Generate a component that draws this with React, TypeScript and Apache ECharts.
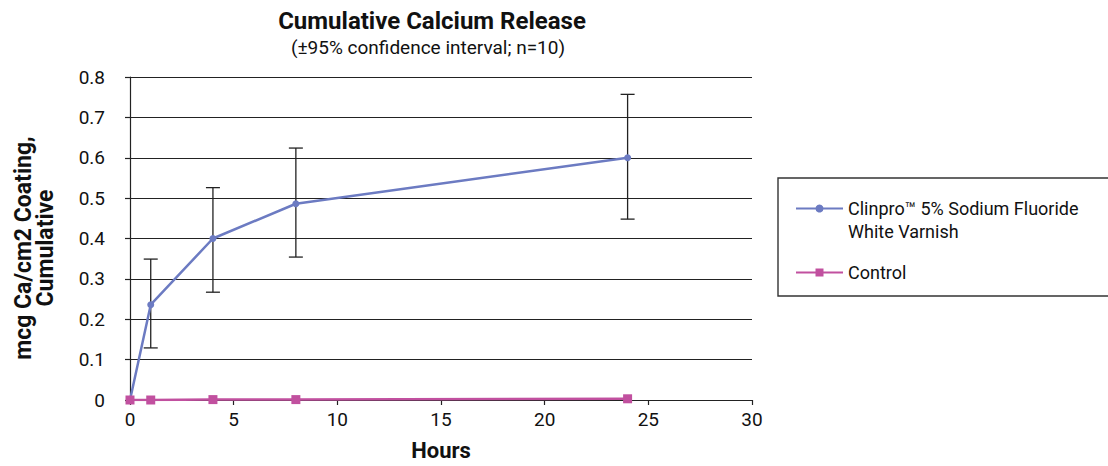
import React, { useEffect, useRef } from "react";
import * as echarts from "echarts";

const hours = [0, 1, 4, 8, 24];
const clinproMean = [0, 0.236, 0.4, 0.486, 0.6];
const clinproLow = [null, 0.129, 0.267, 0.354, 0.448];
const clinproHigh = [null, 0.349, 0.526, 0.624, 0.757];
const controlMean = [0, 0, 0.001, 0.001, 0.003];
const yTicks = { min: 0, max: 0.8, interval: 0.1 };
const xTicks = { min: 0, max: 30, interval: 5 };

const FONT = "Roboto, 'Liberation Sans', sans-serif";
const BLUE = "#6c7bc2";
const PINK = "#c1509f";
const NAME1 = "Clinpro™ 5% Sodium Fluoride\nWhite Varnish";
const NAME2 = "Control";

export default function App() {
  const ref = useRef<HTMLDivElement>(null);
  useEffect(() => {
    document.body.style.margin = "0";
    if (!ref.current) return;
    const chart = echarts.init(ref.current, null, { renderer: "svg" });
    const errData = hours
      .map((h, i) => [h, clinproLow[i], clinproHigh[i]])
      .filter((d) => d[1] !== null);
    chart.setOption({
      animation: false,
      textStyle: { fontFamily: FONT },
      graphic: [
        {
          type: "text",
          x: 432,
          y: 21,
          style: {
            text: "Cumulative Calcium Release",
            font: `bold 24px ${FONT}`,
            fill: "#111",
            textAlign: "center",
            textVerticalAlign: "middle",
          },
        },
        {
          type: "text",
          x: 428,
          y: 47,
          style: {
            text: "(±95% confidence interval; n=10)",
            font: `19px ${FONT}`,
            fill: "#111",
            textAlign: "center",
            textVerticalAlign: "middle",
          },
        },
        {
          type: "text",
          x: 34,
          y: 248,
          rotation: Math.PI / 2,
          style: {
            text: "mcg Ca/cm2 Coating,\nCumulative",
            font: `bold 23px ${FONT}`,
            lineHeight: 22,
            fill: "#111",
            textAlign: "center",
            textVerticalAlign: "middle",
          },
        },
        {
          type: "rect",
          shape: { x: 778, y: 178, width: 340, height: 118 },
          style: { fill: "none", stroke: "#333", lineWidth: 1.4 },
          z: 1,
        },
      ],
      grid: { left: 130, right: 356, top: 77, bottom: 66, containLabel: false, outerBoundsMode: "none" },
      xAxis: {
        type: "value",
        min: xTicks.min,
        max: xTicks.max,
        interval: xTicks.interval,
        name: "Hours",
        nameLocation: "middle",
        nameGap: 39,
        nameTextStyle: { fontFamily: FONT, fontWeight: "bold", fontSize: 22, color: "#111" },
        axisLine: { lineStyle: { color: "#222", width: 1.2 } },
        axisTick: { show: true, length: 5, lineStyle: { color: "#222", width: 1.2 } },
        axisLabel: { fontFamily: FONT, fontSize: 19, color: "#111", margin: 10 },
        splitLine: { show: false },
      },
      yAxis: {
        type: "value",
        min: yTicks.min,
        max: yTicks.max,
        interval: yTicks.interval,
        axisLine: { show: true, lineStyle: { color: "#222", width: 1.2 } },
        axisTick: { show: true, length: 5, lineStyle: { color: "#222", width: 1.2 } },
        axisLabel: { fontFamily: FONT, fontSize: 19, color: "#111", margin: 25 },
        splitLine: { show: true, lineStyle: { color: "#222", width: 1.2 } },
      },
      legend: {
        orient: "vertical",
        left: 790,
        top: 169,
        itemWidth: 47,
        itemHeight: 10,
        itemGap: 18,
        formatter: (name: string) => (name === NAME1 ? "\n" + name : name),
        textStyle: { fontFamily: FONT, fontSize: 18, color: "#111", lineHeight: 23 },
        data: [NAME1, NAME2],
      },
      series: [
        {
          name: NAME1,
          type: "line",
          data: hours.map((h, i) => [h, clinproMean[i]]),
          symbol: "circle",
          symbolSize: 7,
          lineStyle: { color: BLUE, width: 2.5 },
          itemStyle: { color: BLUE },
          z: 3,
        },
        {
          name: NAME2,
          type: "line",
          data: hours.map((h, i) => [h, controlMean[i]]),
          symbol: "rect",
          symbolSize: 9,
          lineStyle: { color: PINK, width: 2.5 },
          itemStyle: { color: PINK },
          z: 4,
        },
        {
          type: "custom",
          name: "error",
          data: errData,
          z: 2,
          renderItem: (params: any, api: any) => {
            const x = api.value(0);
            const lo = api.coord([x, api.value(1)]);
            const hi = api.coord([x, api.value(2)]);
            const hw = 7;
            const style = { stroke: "#222", lineWidth: 1.3 };
            return {
              type: "group",
              children: [
                { type: "line", shape: { x1: lo[0], y1: lo[1], x2: hi[0], y2: hi[1] }, style },
                { type: "line", shape: { x1: hi[0] - hw, y1: hi[1], x2: hi[0] + hw, y2: hi[1] }, style },
                { type: "line", shape: { x1: lo[0] - hw, y1: lo[1], x2: lo[0] + hw, y2: lo[1] }, style },
              ],
            };
          },
        },
      ],
    });
    return () => chart.dispose();
  }, []);
  return <div ref={ref} style={{ width: 1108, height: 466 }} />;
}
